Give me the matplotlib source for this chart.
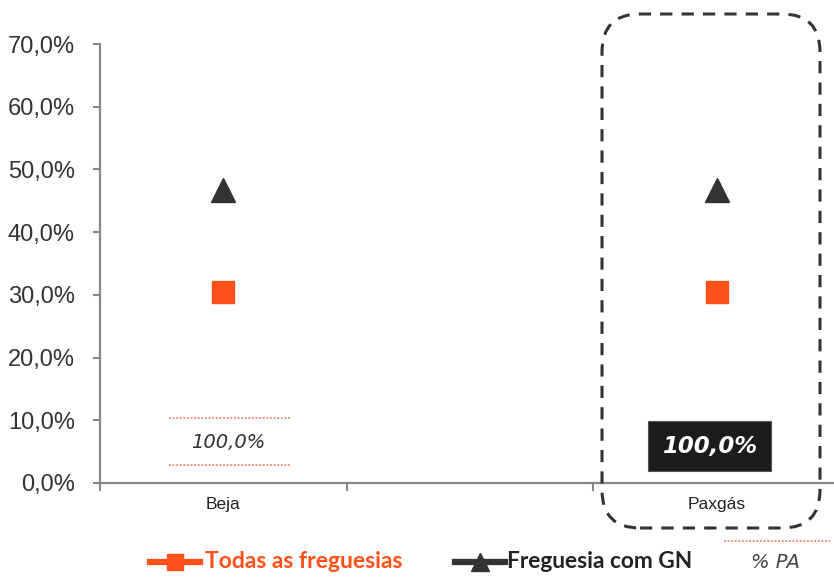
import numpy as np
import matplotlib
matplotlib.use('Agg')
import matplotlib.pyplot as plt
from matplotlib.lines import Line2D
from matplotlib.patches import FancyBboxPatch
from matplotlib.transforms import IdentityTransform, blended_transform_factory
from matplotlib.ticker import FuncFormatter

# data
categories = ['Beja', '', 'Paxgás']
todas = [30.5, np.nan, 30.5]      # Todas as freguesias
com_gn = [46.7, np.nan, 46.7]     # Freguesia com GN
pa_labels = ['100,0%', None, '100,0%']
yticks = [0, 10, 20, 30, 40, 50, 60, 70]

orange = '#FF5119'
dark = '#333333'

fig = plt.figure(figsize=(8.34, 5.77), dpi=100)
ax = fig.add_axes([100 / 834, 1 - 483 / 577, 740 / 834, 439 / 577])
x = np.arange(len(categories))

ax.plot(x, todas, 's', color=orange, markersize=16, linestyle='none')
ax.plot(x, com_gn, '^', color=dark, markersize=17, linestyle='none')

ax.set_xlim(-0.5, 2.5)
ax.set_ylim(0, 70)
ax.set_yticks(yticks)
ax.yaxis.set_major_formatter(FuncFormatter(lambda v, p: f'{v:.1f}%'.replace('.', ',')))
ax.tick_params(axis='y', labelsize=17, labelcolor='#333333', color='#888888',
               length=5, width=1.5, pad=13)
for lab in ax.get_yticklabels():
    lab.set_family('Liberation Sans')

ax.set_xticks(x)
ax.set_xticklabels(categories, fontsize=12.5, family='Liberation Sans', color='#222222')
ax.tick_params(axis='x', length=0, pad=10)
ax.set_xticks([-0.5, 0.5, 1.5], minor=True)
ax.tick_params(axis='x', which='minor', length=6, width=1.5, color='#888888')

for s in ['top', 'right']:
    ax.spines[s].set_visible(False)
for s in ['left', 'bottom']:
    ax.spines[s].set_color('#888888')
    ax.spines[s].set_linewidth(1.6)

# % PA labels under each category
tr = blended_transform_factory(ax.transData, ax.transAxes)
for xi, lab in zip(x, pa_labels):
    if lab is None:
        continue
    if xi == 0:
        ax.text(xi + 0.02, 0.093, lab, transform=tr, ha='center', va='center',
                fontsize=14, style='italic', color='#333333', family='DejaVu Sans')
        for yy in (0.148, 0.041):
            ax.add_line(Line2D([xi - 0.22, xi + 0.27], [yy, yy], transform=tr,
                               color='#F4846C', lw=1.3, ls=(0, (1, 1)), clip_on=False))
    else:
        ax.text(xi - 0.03, 0.084, lab, transform=tr, ha='center', va='center',
                fontsize=16.5, style='italic', weight='bold', color='white',
                family='DejaVu Sans',
                bbox=dict(boxstyle='square,pad=0.6', fc='#1c1c1c', ec='#555555', lw=0.8))

# dashed highlight box round Paxgás
box = FancyBboxPatch((602, 577 - 528), 218, 514,
                     boxstyle='round,pad=0,rounding_size=38',
                     transform=IdentityTransform(), fill=False,
                     ec='#333333', lw=2.2, ls=(0, (4, 3)))
fig.patches.append(box)

# legend along the bottom
ly = 1 - 562 / 577
fig.add_artist(Line2D([150 / 834, 200 / 834], [ly, ly], color=orange, lw=4.5,
                      transform=fig.transFigure))
fig.add_artist(Line2D([175 / 834], [ly], color=orange, marker='s', markersize=12,
                      transform=fig.transFigure))
fig.text(205 / 834, ly, 'Todas as freguesias', color=orange, fontsize=16.5,
         weight='bold', family='Lato', va='center')
fig.add_artist(Line2D([455 / 834, 505 / 834], [ly, ly], color=dark, lw=4.5,
                      transform=fig.transFigure))
fig.add_artist(Line2D([480 / 834], [ly], color=dark, marker='^', markersize=13,
                      transform=fig.transFigure))
fig.text(507 / 834, ly, 'Freguesia com GN', color='#222222', fontsize=16.3,
         weight='bold', family='Lato', va='center')
fig.add_artist(Line2D([724 / 834, 830 / 834], [1 - 541 / 577] * 2, color='#F4846C',
                      lw=1.3, ls=(0, (1, 1)), transform=fig.transFigure))
fig.text(775 / 834, ly, '% PA', color='#444444', fontsize=14, style='italic',
         family='DejaVu Sans', ha='center', va='center')

fig.savefig('out.png', dpi=100)
